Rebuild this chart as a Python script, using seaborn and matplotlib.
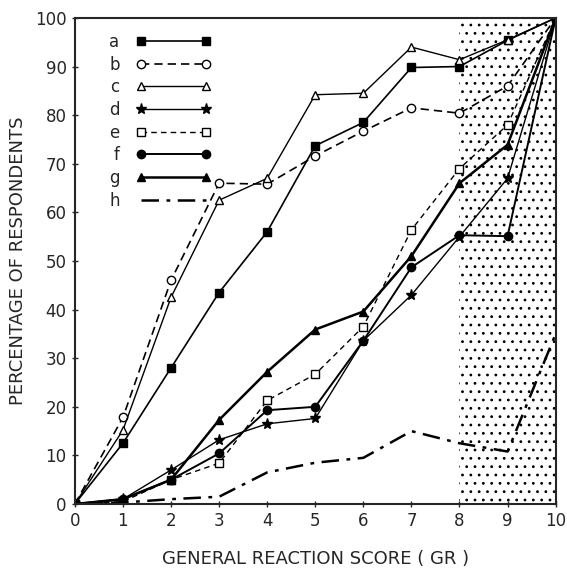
import matplotlib
matplotlib.use("Agg")
import matplotlib.pyplot as plt
import seaborn as sns
import pandas as pd

# General reaction score (x axis)
gr = [0, 1, 2, 3, 4, 5, 6, 7, 8, 9, 10]

# percentage of respondents
a = [0, 12.5, 28, 43.5, 56, 73.7, 78.5, 89.8, 90, 95.4, 100]
b = [0, 17.8, 46, 66, 65.8, 71.6, 76.7, 81.5, 80.4, 86, 100]
c = [0, 15.2, 42.5, 62.5, 67, 84.2, 84.5, 94, 91.4, 95.5, 100]
d = [0, 1, 7, 13.2, 16.5, 17.6, 33.6, 43, 55, 67, 100]
e = [0, 0.5, 5, 8.4, 21.3, 26.7, 36.5, 56.4, 69, 78, 100]
f = [0, 1, 5, 10.4, 19.3, 20, 33.6, 48.7, 55.3, 55.1, 100]
g = [0, 1, 5, 17.3, 27.2, 35.9, 39.6, 51, 66, 73.9, 100]
h = [0, 0.3, 1, 1.5, 6.5, 8.5, 9.5, 15, 12.5, 10.8, 35]

series = {"a": a, "b": b, "c": c, "d": d, "e": e, "f": f, "g": g, "h": h}

# (marker, filled, linestyle, linewidth)
styles = {
    "a": ("s", True, "-", 1.2),
    "b": ("o", False, (0, (5, 3)), 1.2),
    "c": ("^", False, "-", 1.0),
    "d": ("*", True, "-", 1.0),
    "e": ("s", False, (0, (4, 3)), 1.0),
    "f": ("o", True, "-", 1.4),
    "g": ("^", True, "-", 1.8),
    "h": ("", True, (0, (7, 3, 1.5, 3)), 1.8),
}

sns.set_style("ticks")
plt.rcParams["font.family"] = ["DejaVu Sans"]
plt.rcParams["hatch.linewidth"] = 0.8

fig = plt.figure(figsize=(5.67, 5.78), dpi=100)
ax = fig.add_axes([0.132, 0.128, 0.848, 0.841])

# stippled region for GR 8-10
ax.axvspan(8, 10, facecolor="none", edgecolor="black", hatch="..", linewidth=0, zorder=0)

for name, vals in series.items():
    mk, filled, ls, lw = styles[name]
    df = pd.DataFrame({"gr": gr, "pct": vals})
    sns.lineplot(
        data=df, x="gr", y="pct", ax=ax, color="black",
        marker=mk if mk else None, markersize=6 if mk != "*" else 8,
        markerfacecolor="black" if filled else "white",
        markeredgecolor="black", markeredgewidth=1.0,
        linestyle=ls, linewidth=lw, label=name,
    )

ax.set_xlim(0, 10)
ax.set_ylim(0, 100)
ax.set_xticks(range(0, 11))
ax.set_yticks(range(0, 101, 10))
ax.tick_params(direction="inout", length=5, width=1, labelsize=12)
for s in ax.spines.values():
    s.set_linewidth(1.5)

ax.set_xlabel("GENERAL REACTION SCORE ( GR )", fontsize=13, labelpad=14)
ax.set_ylabel("PERCENTAGE OF RESPONDENTS", fontsize=13, labelpad=6)

ax.legend(loc="upper left", bbox_to_anchor=(0.04, 1.0), frameon=False,
          markerfirst=False, numpoints=2, handlelength=4.5,
          labelspacing=0.28, fontsize=12, handletextpad=1.0)

plt.savefig("out.png", dpi=100)
plt.close()
